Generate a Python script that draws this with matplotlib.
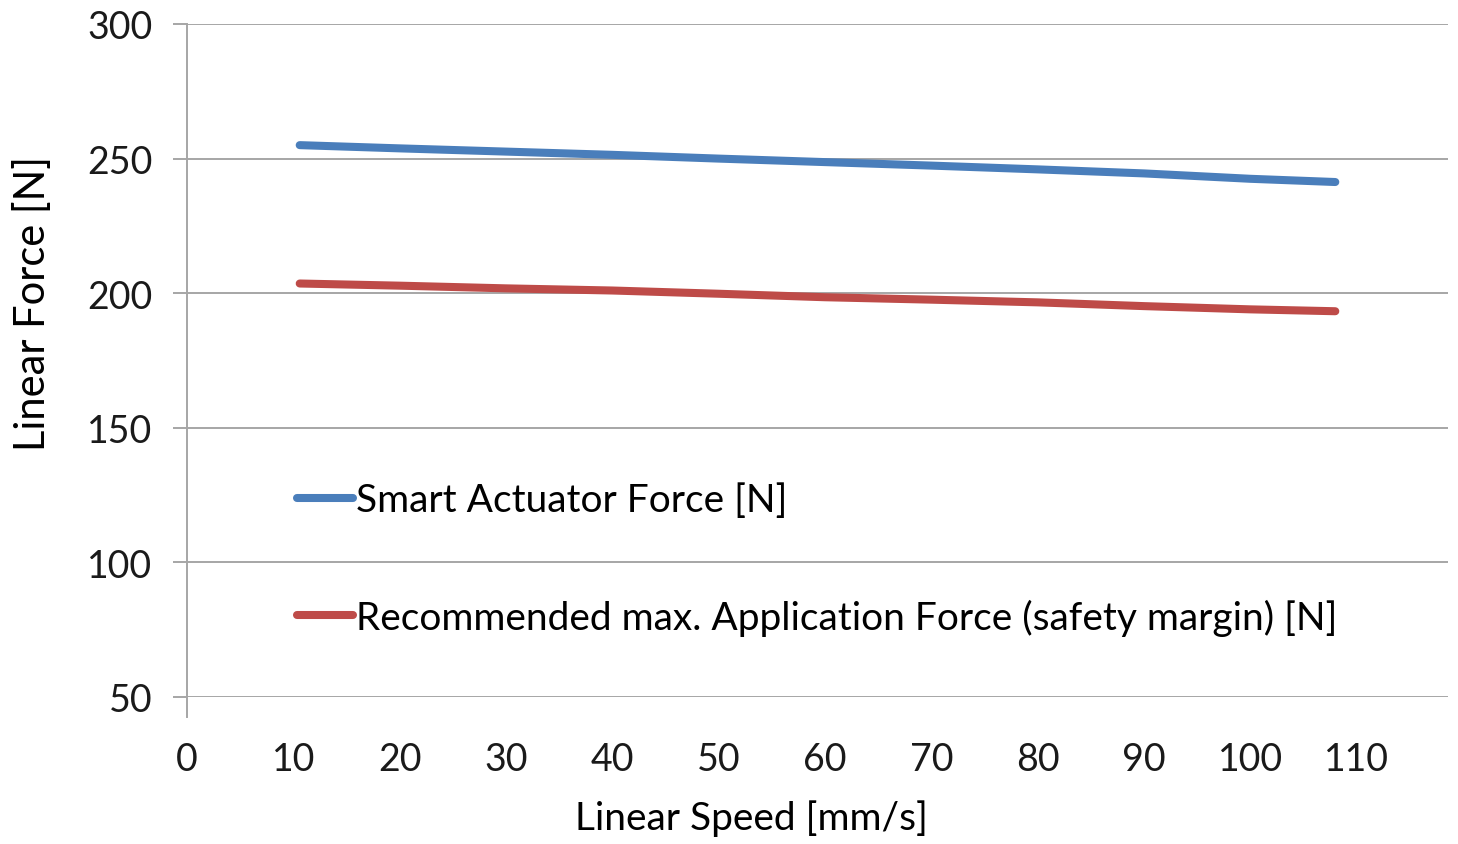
import matplotlib.pyplot as plt

plt.rcParams['font.family'] = ['Lato', 'DejaVu Sans']

# speed [mm/s]
speed = [10.6, 20, 30, 40, 50, 60, 70, 80, 90, 100, 108]
# forces [N]
actuator_force = [255.0, 253.8, 252.6, 251.4, 250.0, 248.7, 247.4, 246.0, 244.5, 242.5, 241.3]
recommended_force = [203.6, 202.8, 201.8, 201.0, 199.8, 198.5, 197.6, 196.6, 195.2, 194.0, 193.3]

x_ticks = [0, 10, 20, 30, 40, 50, 60, 70, 80, 90, 100, 110]
y_ticks = [50, 100, 150, 200, 250, 300]

fig = plt.figure(figsize=(14.58, 8.45), dpi=100)
ax = fig.add_axes([187/1458, 1 - 698/845, (1448-187)/1458, (698-25)/845])

ax.plot(speed, actuator_force, color='#4A7EBB', lw=5.8, solid_capstyle='round',
        label='Smart Actuator Force [N]')
ax.plot(speed, recommended_force, color='#BE4B48', lw=5.8, solid_capstyle='round',
        label='Recommended max. Application Force (safety margin) [N]')

ax.set_xlim(0, 118.6)
ax.set_ylim(50, 300)
ax.set_xticks(x_ticks)
ax.set_yticks(y_ticks)
ax.grid(axis='y', color='#A6A6A6', lw=1.4)
ax.set_axisbelow(True)

for s in ['top', 'right', 'bottom']:
    ax.spines[s].set_visible(False)
ax.spines['left'].set_color('#A6A6A6')
ax.spines['left'].set_linewidth(1.4)
ax.spines['left'].set_bounds(42.5, 300)

ax.tick_params(axis='y', length=10, width=1.4, color='#A6A6A6', labelsize=27,
               labelcolor='#1a1a1a', pad=15)
ax.tick_params(axis='x', length=0, labelsize=27, labelcolor='#1a1a1a', pad=32)

ax.set_xlabel('Linear Speed [mm/s]', fontsize=28)
ax.set_ylabel('Linear Force [N]', fontsize=30)
ax.xaxis.set_label_coords((751-187)/1261, -(800-698)/673)
ax.yaxis.set_label_coords(-(187-52)/1261, (698-304)/673)

ax.legend(loc='upper left', bbox_to_anchor=(0.087, 0.319), frameon=False,
          fontsize=28, handlelength=1.45, handletextpad=0.08, labelspacing=2.07,
          borderpad=0, borderaxespad=0)

fig.savefig('out.png', dpi=100)
